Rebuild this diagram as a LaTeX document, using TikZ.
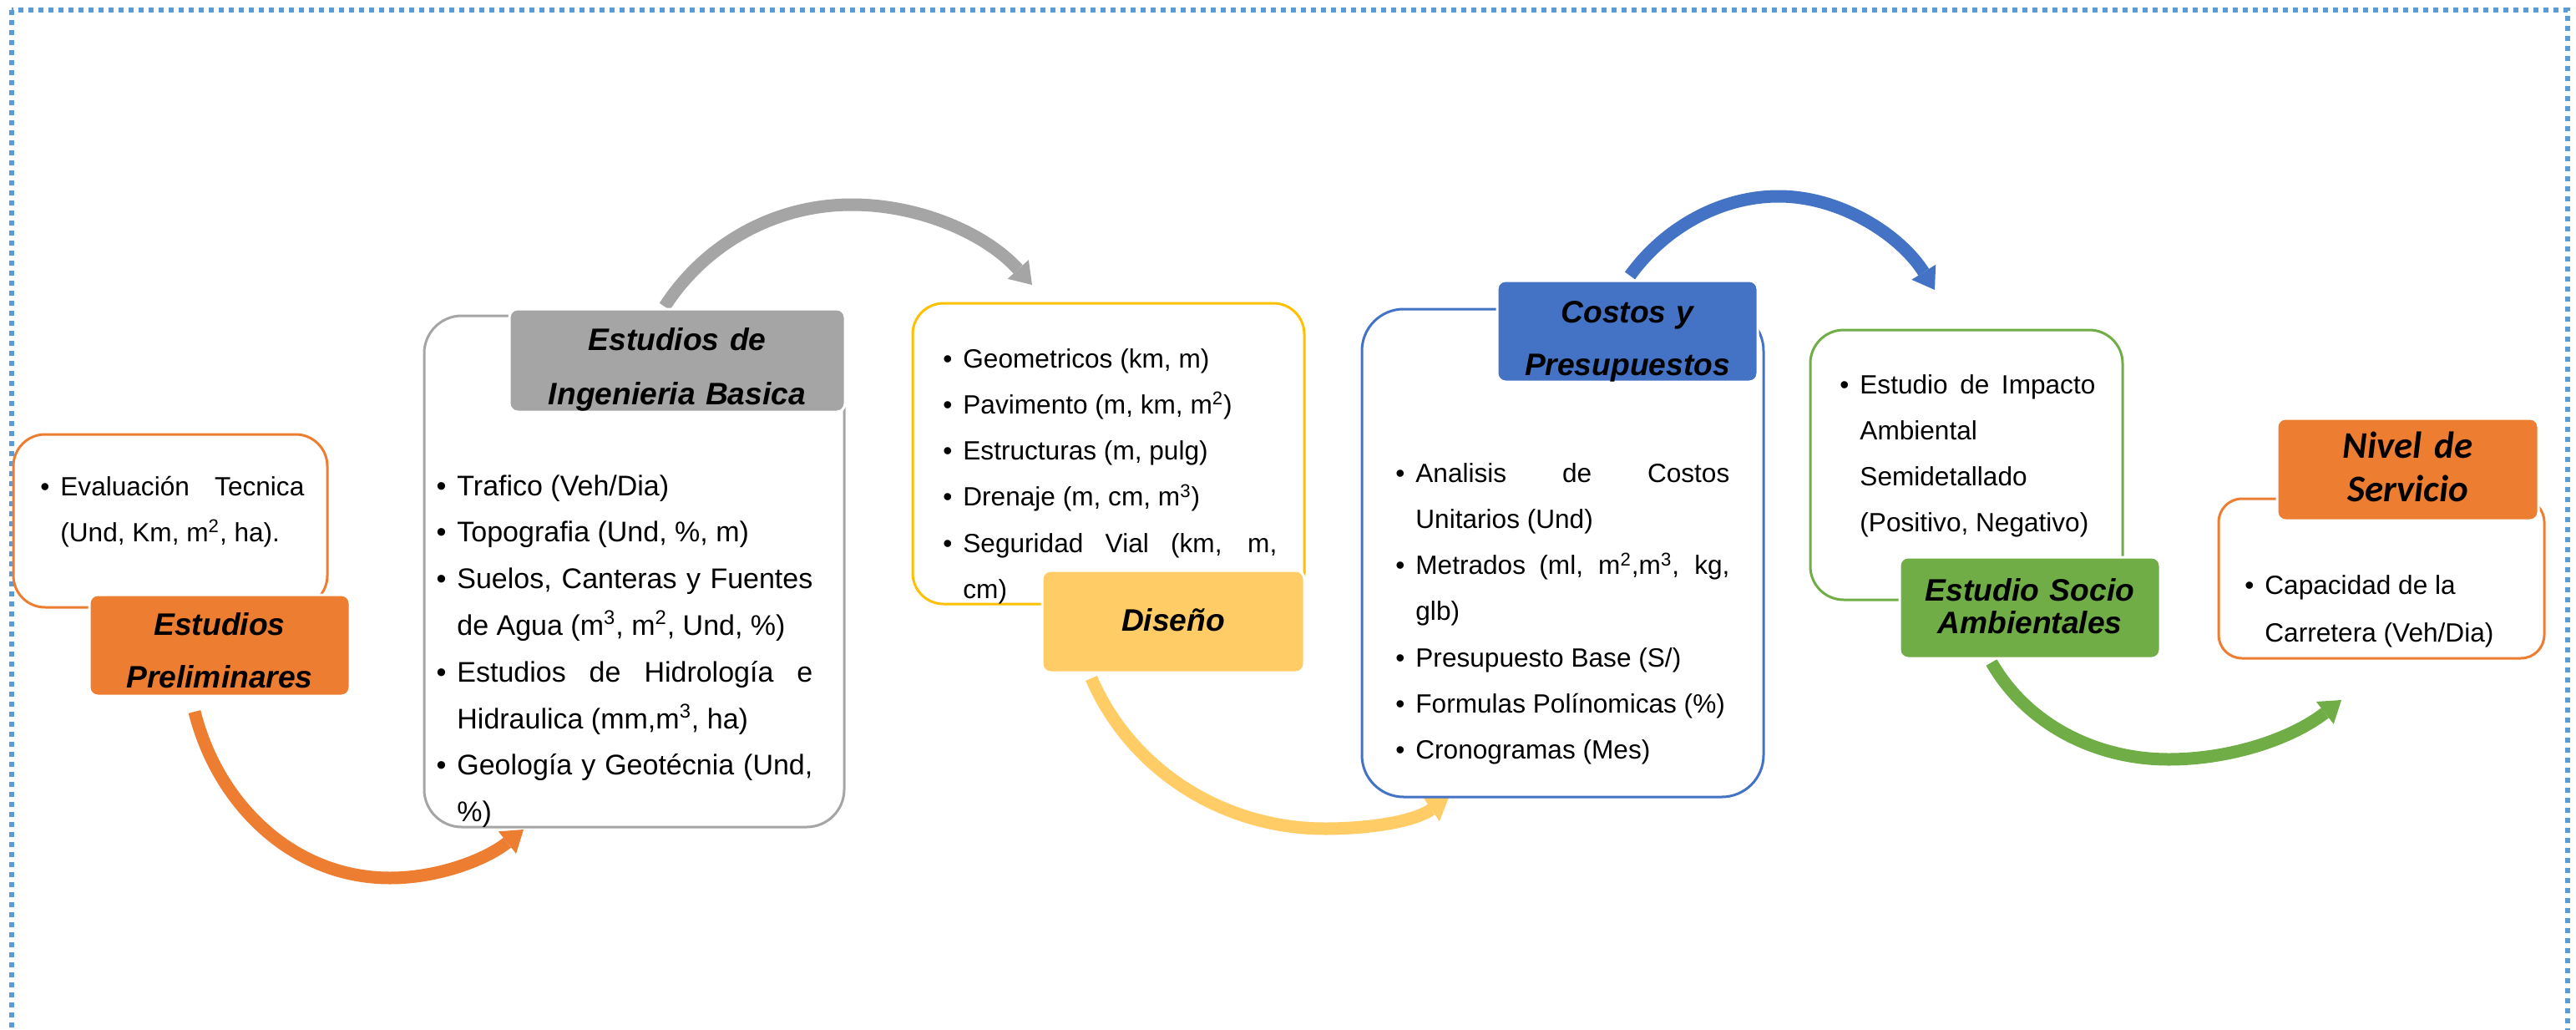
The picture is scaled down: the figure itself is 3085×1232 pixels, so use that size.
\documentclass[tikz,border=0pt]{standalone}
\usepackage{fontspec}
\setmainfont{Liberation Sans}
\newfontfamily\calibfont{Carlito}
\usetikzlibrary{arrows.meta}

\definecolor{accOrange}{HTML}{ED7D31}
\definecolor{accGray}{HTML}{A5A5A5}
\definecolor{accGold}{HTML}{FFC000}
\definecolor{accGoldLight}{HTML}{FFCC66}
\definecolor{accBlue}{HTML}{4472C4}
\definecolor{accGreen}{HTML}{70AD47}
\definecolor{frameBlue}{HTML}{5B9BD5}

% body text: size, leading and justification settings
\newcommand\bodyset{\fontsize{15.8pt}{27.65pt}\selectfont\tolerance=10000\hyphenpenalty=10000\exhyphenpenalty=10000\parskip=0pt\relax}
% heading text with a given leading
\newcommand\headset[1]{\fontsize{18.6pt}{#1}\selectfont\bfseries\itshape}
% bulleted paragraph, bullet hanging in the left margin
\newcommand\bitem[1]{\noindent\llap{\textbullet\hspace{6.5pt}}#1\par}

\begin{document}
\begin{tikzpicture}[x=0.5pt,y=-0.5pt,
  contentbox/.style={draw=#1, line width=1.5pt, fill=white, inner sep=0pt, outer sep=0pt},
  titlebox/.style={fill=#1, draw=white, line width=1.5pt, rounded corners=5pt, inner sep=0pt, outer sep=0pt},
  bodytext/.style={anchor=base west, inner sep=0pt, align=justify, font=\bodyset},
  titletext/.style={anchor=base, inner sep=0pt, align=center},
  flow/.style={draw=#1, line width=7.5pt,
    -{Triangle[length=12.5pt,width=17pt,line width=0pt]}}]

\useasboundingbox (0,0) rectangle (3085,1232);

% dotted outer frame
\draw[frameBlue, line width=3pt, dash pattern=on 3pt off 3pt] (14,12) rectangle (3075,1320);

% end points of the curved connectors
\coordinate (a1s) at (233,852);   \coordinate (a1e) at (627,993);
\coordinate (a2s) at (796,367);   \coordinate (a2e) at (1236,341);
\coordinate (a3s) at (1307,812);  \coordinate (a3e) at (1735,955);
\coordinate (a4s) at (1952,330);  \coordinate (a4e) at (2317,347);
\coordinate (a5s) at (2385,793);  \coordinate (a5e) at (2804,838);

% curved connectors
\draw[flow=accOrange] (a1s) .. controls (261,964) and (352,1051) .. (467,1051)
      .. controls (525,1051) and (582,1029) .. (a1e);
\draw[flow=accGray] (a2s) .. controls (845,291) and (929,245) .. (1020,245)
      .. controls (1102,245) and (1181,280) .. (a2e);
\draw[flow=accGoldLight] (a3s) .. controls (1355,923) and (1466,992) .. (1587,992)
      .. controls (1639,992) and (1692,984) .. (a3e);
\draw[flow=accBlue] (a4s) .. controls (1993,273) and (2060,235) .. (2130,235)
      .. controls (2206,235) and (2277,283) .. (a4e);
\draw[flow=accGreen] (a5s) .. controls (2428,868) and (2511,909) .. (2597,909)
      .. controls (2672,909) and (2745,884) .. (a5e);

% content boxes
\node[contentbox=accOrange, rounded corners=19pt, minimum width=188pt, minimum height=103.5pt] (cA) at (204,623.5) {};
\node[contentbox=accGray, rounded corners=22.5pt, minimum width=251.5pt, minimum height=306pt] (cB) at (759.5,684) {};
\node[contentbox=accGold, rounded corners=18.5pt, minimum width=234.5pt, minimum height=180pt] (cC) at (1327.5,543) {};
\node[contentbox=accBlue, rounded corners=25pt, minimum width=240.5pt, minimum height=292pt] (cD) at (1871.5,662) {};
\node[contentbox=accGreen, rounded corners=20pt, minimum width=187pt, minimum height=161.5pt] (cE) at (2355,556.5) {};
\node[contentbox=accOrange, rounded corners=14pt, minimum width=195pt, minimum height=95.5pt] (cF) at (2852,692.5) {};

% heading boxes
\node[titlebox=accOrange, minimum width=156pt, minimum height=60.5pt] (tA) at (263,772.5) {};
\node[titlebox=accGray, minimum width=201pt, minimum height=61.5pt] (tB) at (811,431.5) {};
\node[titlebox=accGoldLight, minimum width=157pt, minimum height=61pt] (tC) at (1405,744) {};
\node[titlebox=accBlue, minimum width=156pt, minimum height=60.5pt] (tD) at (1949,396.5) {};
\node[titlebox=accGreen, minimum width=156pt, minimum height=60.5pt] (tE) at (2431,727.5) {};
\node[titlebox=accOrange, minimum width=156.5pt, minimum height=61pt] (tF) at (2883.5,562) {};

% heading texts
\node[titletext, text width=150pt, font={\headset{31.5pt}}] (hA) at (263,760) {Estudios\\Preliminares};
\node[titletext, text width=195pt, font={\headset{32.5pt}}] (hB) at (811,419) {Estudios de\\Ingenieria Basica};
\node[titletext, text width=150pt, font={\headset{31.5pt}}] (hC) at (1405,755) {Diseño};
\node[titletext, text width=150pt, font={\headset{31.5pt}}] (hD) at (1949,386) {Costos y\\Presupuestos};
\node[titletext, text width=150pt, font={\headset{19.5pt}}] (hE) at (2431,719) {Estudio Socio\\Ambientales};
\node[titletext, text width=150pt, font={\calibfont\fontsize{22.5pt}{26pt}\selectfont\bfseries\itshape}] (hF) at (2883.5,548) {Nivel de\\Servicio};

% bulleted contents
\node[bodytext, text width=146pt] (xA) at (72,593) {%
  \bitem{Evaluación Tecnica\linebreak (Und, Km, m\textsuperscript{2}, ha).}};
\node[bodytext, text width=213pt, font={\bodyset\fontsize{17pt}{27.9pt}\selectfont}] (xB) at (547,593) {%
  \bitem{Trafico (Veh/Dia)}%
  \bitem{Topografia (Und, \%, m)}%
  \bitem{Suelos, Canteras y Fuentes\linebreak de Agua (m\textsuperscript{3}, m\textsuperscript{2}, Und, \%)}%
  \bitem{Estudios de Hidrología e\linebreak Hidraulica (mm,m\textsuperscript{3}, ha)}%
  \bitem{Geología y Geotécnia (Und,\linebreak \%)}};
\node[bodytext, text width=188pt] (xC) at (1153,440) {%
  \bitem{Geometricos (km, m)}%
  \bitem{Pavimento (m, km, m\textsuperscript{2})}%
  \bitem{Estructuras (m, pulg)}%
  \bitem{Drenaje (m, cm, m\textsuperscript{3})}%
  \bitem{Seguridad Vial (km, m,\linebreak cm)}};
\node[bodytext, text width=188pt] (xD) at (1695,577) {%
  \bitem{Analisis de Costos\linebreak Unitarios (Und)}%
  \bitem{Metrados (ml, m\textsuperscript{2},m\textsuperscript{3}, kg,\linebreak glb)}%
  \bitem{Presupuesto Base (S/)}%
  \bitem{Formulas Polínomicas (\%)}%
  \bitem{Cronogramas (Mes)}};
\node[bodytext, text width=141pt] (xE) at (2227,471) {%
  \bitem{Estudio de Impacto\linebreak Ambiental\newline Semidetallado\newline (Positivo, Negativo)}};
\node[bodytext, text width=160pt, font={\bodyset\baselineskip=28.5pt}] (xF) at (2712,711) {%
  \bitem{Capacidad de la\newline Carretera (Veh/Dia)}};

\end{tikzpicture}
\end{document}
